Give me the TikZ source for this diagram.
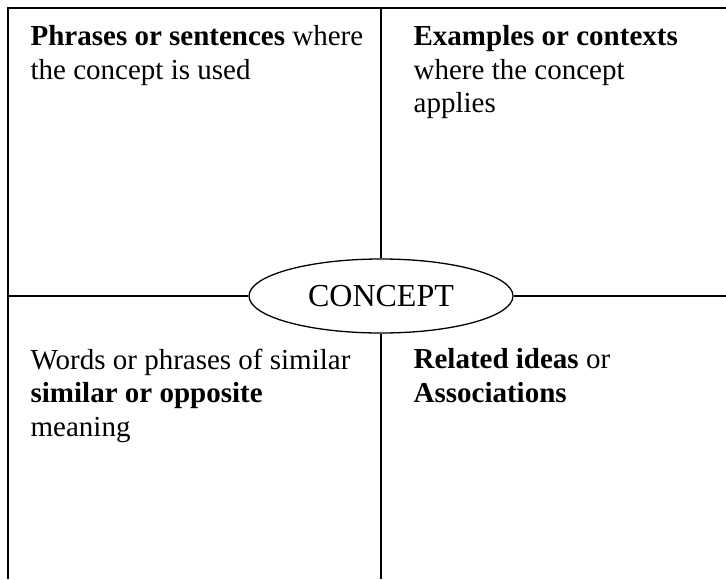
\documentclass[tikz,border=0pt]{standalone}
\usepackage{fontspec}
\setmainfont{Liberation Serif}
\usetikzlibrary{shapes.geometric}

\begin{document}
\begin{tikzpicture}[x=1pt,y=-1pt,line width=1.3pt,
  quad/.style={anchor=north west,inner sep=0pt,align=left,
    font=\fontsize{29}{33.5}\selectfont}]
  \useasboundingbox (0,0) rectangle (726,579);
  % ends of the frame and of the cross
  \coordinate (topright) at (726,8);
  \coordinate (corner) at (8,8);
  \coordinate (botleft) at (8,579);
  \coordinate (midtop) at (381,8);
  \coordinate (midbot) at (381,579);
  \coordinate (leftmid) at (8,296);
  \coordinate (rightmid) at (726,296);

  \node[draw,ellipse,minimum width=264pt,minimum height=74pt,inner sep=0pt,
    font=\fontsize{32}{36}\selectfont] (concept) at (381,296) {CONCEPT};

  \draw (topright) -- (corner) -- (botleft);
  \draw (midtop) -- (concept.north);
  \draw (concept.south) -- (midbot);
  \draw (leftmid) -- (concept.west);
  \draw (concept.east) -- (rightmid);

  % the four quadrants
  \node[quad] (phrases) at (30,25)
    {\textbf{Phrases or sentences} where\\the concept is used};
  \node[quad] (examples) at (413,25)
    {\textbf{Examples or contexts}\\where the concept\\applies};
  \node[quad] (words) at (30,348)
    {Words or phrases of similar\\\textbf{similar or opposite}\\meaning};
  \node[quad] (related) at (413,348)
    {\textbf{Related ideas} or\\\textbf{Associations}};
\end{tikzpicture}
\end{document}
